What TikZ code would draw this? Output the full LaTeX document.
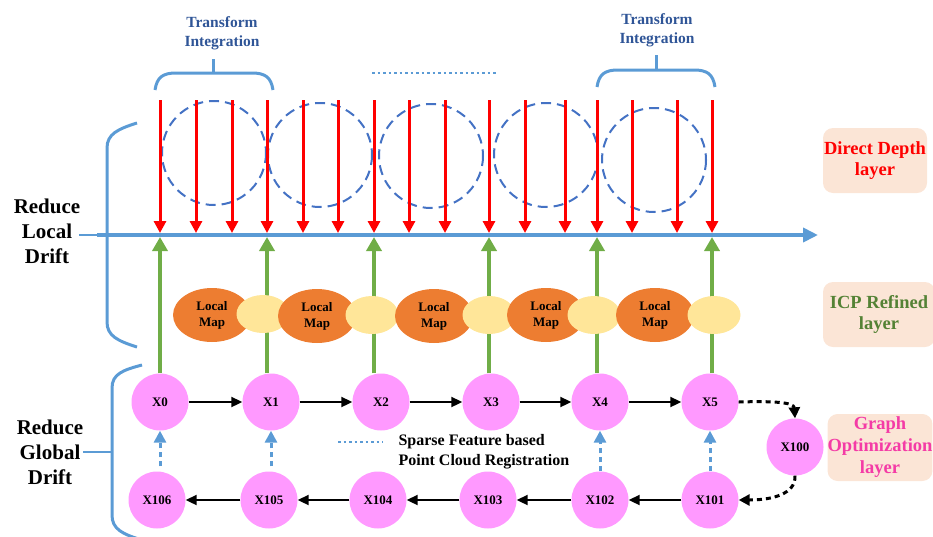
\documentclass[tikz,border=0pt]{standalone}
\usepackage{fontspec}
\setmainfont{Liberation Serif}
\usetikzlibrary{arrows.meta,shapes.geometric,calc}
\definecolor{axisblue}{HTML}{5B9BD5}
\definecolor{circblue}{HTML}{4472C4}
\definecolor{tblue}{HTML}{2F5597}
\definecolor{dgreen}{HTML}{70AD47}
\definecolor{icpgreen}{HTML}{548235}
\definecolor{lorange}{HTML}{ED7D31}
\definecolor{lyellow}{HTML}{FFE699}
\definecolor{npink}{HTML}{FF99FF}
\definecolor{boxpeach}{HTML}{FBE5D6}
\definecolor{gmag}{HTML}{F43BA6}
\begin{document}
\begin{tikzpicture}[x=1pt,y=-1pt,
  xnode/.style={circle,fill=npink,minimum size=57pt,inner sep=0pt,font=\fontsize{13}{15}\selectfont\bfseries},
  lmap/.style={ellipse,fill=lorange,minimum width=78pt,minimum height=54pt,inner sep=0pt,align=center,font=\fontsize{13}{16}\selectfont\bfseries},
  ymap/.style={ellipse,fill=lyellow,minimum width=53pt,minimum height=38pt,inner sep=0pt},
  redarr/.style={draw=red,line width=3pt,-{Triangle[width=12pt,length=12pt]}},
  grnarr/.style={draw=dgreen,line width=3.5pt,-{Triangle[width=15pt,length=14pt]}},
  blkarr/.style={draw=black,line width=2pt,-{Triangle[width=10pt,length=11pt]}},
  loopback/.style={draw=black,line width=3pt,dash pattern=on 5pt off 4pt,-{Triangle[width=11pt,length=11pt]}},
  regarr/.style={draw=axisblue,line width=3pt,dash pattern=on 5pt off 4pt,-{Triangle[width=12pt,length=12pt]}},
  bracepath/.style={draw=axisblue,line width=3pt},
  dcirc/.style={draw=circblue,line width=2pt,dash pattern=on 10pt off 6pt},
  dotline/.style={draw=axisblue,line width=2.5pt,dash pattern=on 2.5pt off 3pt},
  layerbox/.style={rounded corners=10pt,fill=boxpeach,align=center,font=\fontsize{18.5}{21}\selectfont\bfseries,inner sep=0pt},
  sidelabel/.style={align=center,font=\fontsize{21}{25}\selectfont\bfseries},
  tilabel/.style={align=center,text=tblue,font=\fontsize{15.5}{19}\selectfont\bfseries}
]
\useasboundingbox (0,0) rectangle (933,536);

% dashed circles
\foreach \cx/\cy [count=\i] in {214/153,320/155,431/156,546/155,654/160}
  \draw[dcirc] (\cx,\cy) circle (52);

% top braces
\draw[bracepath] (155,90) .. controls (157,77) and (163,73) .. (176,73) -- (252,73) .. controls (265,73) and (271,77) .. (273,90);
\draw[bracepath] (213,73) -- (213,59);
\node[tilabel] (ti1) at (222,33.5) {Transform\\Integration};
\draw[bracepath] (597,87) .. controls (599,74) and (605,70) .. (618,70) -- (694,70) .. controls (707,70) and (713,74) .. (715,87);
\draw[bracepath] (656,70) -- (656,55);
\node[tilabel] (ti2) at (657,30.5) {Transform\\Integration};
\coordinate (dotA) at (372,73);
\coordinate (dotB) at (497,73);
\draw[dotline] (dotA) -- (dotB);

% local drift bracket
\draw[bracepath] (137,123) .. controls (118,129) and (107,134) .. (107,148) -- (107,322) .. controls (107,336) and (118,341) .. (137,347);
\coordinate (axL) at (97,235);
\coordinate (axR) at (818,235);
\coordinate (lbl1) at (79,235);
\coordinate (brk1) at (107,235);
\draw[draw=axisblue,line width=2.5pt] (lbl1) -- (brk1);
\node[sidelabel] (rld) at (47,231) {Reduce\\Local\\Drift};

% global drift bracket
\draw[bracepath] (142,365) .. controls (123,370) and (112,374) .. (112,388) -- (112,515) .. controls (112,529) and (122,534) .. (142,540);
\coordinate (lbl2) at (83,452);
\coordinate (brk2) at (112,452);
\draw[draw=axisblue,line width=2.5pt] (lbl2) -- (brk2);
\node[sidelabel] (rgd) at (50,452) {Reduce\\Global\\Drift};

% axis
\draw[draw=axisblue,line width=4pt,-{Triangle[width=14pt,length=15pt]}] (axL) -- (axR);

% red arrows
\foreach \x [count=\i] in {160,196,232,267,303,338,374,409,445,489,525,565,597,632,677,712}{
  \coordinate (rt\i) at (\x,100);
  \coordinate (rb\i) at (\x,233);
  \draw[redarr] (rt\i) -- (rb\i);
}

% pose nodes
\node[xnode] (X0) at (160,402) {X0};
\node[xnode] (X1) at (271,402) {X1};
\node[xnode] (X2) at (381,402) {X2};
\node[xnode] (X3) at (491,402) {X3};
\node[xnode] (X4) at (600,402) {X4};
\node[xnode] (X5) at (710,402) {X5};
\node[xnode] (X100) at (795,447) {X100};
\node[xnode] (X101) at (710,500) {X101};
\node[xnode] (X102) at (600,500) {X102};
\node[xnode] (X103) at (488,500) {X103};
\node[xnode] (X104) at (378,500) {X104};
\node[xnode] (X105) at (269,500) {X105};
\node[xnode] (X106) at (157,500) {X106};

% green arrows
\foreach \n/\x in {X0/160,X1/267,X2/374,X3/489,X4/597,X5/712}{
  \coordinate (g\n) at (\x,237);
  \draw[grnarr] (\n.north -| g\n) -- (g\n);
}

% local maps
\node[lmap] (O1) at (212,315) {Local\\Map};
\node[ymap] (Y1) at (263,314) {};
\node[lmap] (O2) at (317,316) {Local\\Map};
\node[ymap] (Y2) at (372,315) {};
\node[lmap] (O3) at (434,316) {Local\\Map};
\node[ymap] (Y3) at (489,315) {};
\node[lmap] (O4) at (546,315) {Local\\Map};
\node[ymap] (Y4) at (594,315) {};
\node[lmap] (O5) at (655,315) {Local\\Map};
\node[ymap] (Y5) at (714,315) {};

% pose graph edges
\draw[blkarr] (X0) -- (X1);
\draw[blkarr] (X1) -- (X2);
\draw[blkarr] (X2) -- (X3);
\draw[blkarr] (X3) -- (X4);
\draw[blkarr] (X4) -- (X5);
\draw[blkarr] (X101) -- (X102);
\draw[blkarr] (X102) -- (X103);
\draw[blkarr] (X103) -- (X104);
\draw[blkarr] (X104) -- (X105);
\draw[blkarr] (X105) -- (X106);
\draw[loopback] (X5.east) .. controls (772,401) and (794,402) .. (X100.north);
\draw[loopback] (X100.south) .. controls (796,494) and (772,500) .. (X101.east);

% registration edges
\draw[regarr,shorten <=5pt] (X106.north -| X0.south) -- (X0.south);
\draw[regarr,shorten <=5pt] (X105.north -| X1.south) -- (X1.south);
\draw[regarr] (X102.north) -- (X4.south);
\draw[regarr] (X101.north) -- (X5.south);

% legend
\coordinate (lgA) at (338,442);
\coordinate (lgB) at (383,442);
\draw[dotline] (lgA) -- (lgB);
\node[anchor=west,align=left,font=\fontsize{16}{20}\selectfont\bfseries] (lgT) at (395,452) {Sparse Feature based\\Point Cloud Registration};

% layer boxes
\node[layerbox,minimum width=104pt,minimum height=65pt,text=red] (L1) at (875,160.5) {Direct Depth\\layer};
\node[layerbox,minimum width=112pt,minimum height=65pt,text=icpgreen] (L2) at (879,314.5) {ICP Refined\\layer};
\node[layerbox,minimum width=104pt,minimum height=67pt,text=gmag,font=\fontsize{18.5}{22}\selectfont\bfseries] (L3) at (880,447.5) {Graph\\Optimization\\layer};
\end{tikzpicture}
\end{document}
